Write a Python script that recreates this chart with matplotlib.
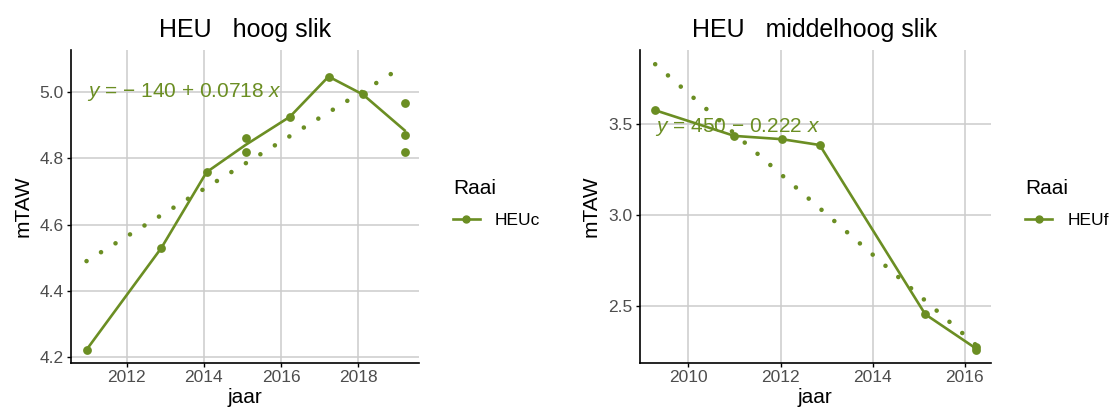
import matplotlib
matplotlib.use('Agg')
import numpy as np
import pandas as pd
import matplotlib.pyplot as plt
from matplotlib.lines import Line2D

# --- data ---
hoog_jaar = [2010.96, 2012.90, 2014.07, 2015.08, 2015.08, 2016.23, 2017.23, 2018.12, 2019.20, 2019.20, 2019.20]
hoog_mtaw = [4.223, 4.530, 4.758, 4.862, 4.818, 4.925, 5.046, 4.992, 4.965, 4.869, 4.818]
hoog_trend_jaar = [2010.96, 2019.20]
hoog_trend_mtaw = [4.490, 5.079]

mid_jaar = [2009.28, 2011.00, 2012.03, 2012.85, 2015.14, 2016.25, 2016.25]
mid_mtaw = [3.577, 3.436, 3.418, 3.386, 2.456, 2.275, 2.258]
mid_trend_jaar = [2009.28, 2016.25]
mid_trend_mtaw = [3.830, 2.285]

hoog_xticks = [2012, 2014, 2016, 2018]
hoog_yticks = [4.2, 4.4, 4.6, 4.8, 5.0]
mid_xticks = [2010, 2012, 2014, 2016]
mid_yticks = [2.5, 3.0, 3.5]

plt.rcParams['font.family'] = ['Liberation Sans', 'DejaVu Sans']
plt.rcParams['mathtext.fontset'] = 'custom'
plt.rcParams['mathtext.rm'] = 'Liberation Sans'
plt.rcParams['mathtext.it'] = 'Liberation Sans:italic'

GREEN = '#6B8E23'
W, H = 1117, 417
fig = plt.figure(figsize=(W / 100, H / 100), dpi=100)


def px_axes(left, right, top, bottom):
    return fig.add_axes([left / W, 1 - bottom / H, (right - left) / W, (bottom - top) / H])


def draw_panel(ax, title, jaar, mtaw, tr_x, tr_y, eq, eq_y, raai, xlim, ylim, xticks, yticks):
    df = pd.DataFrame({'jaar': jaar, 'mtaw': mtaw})
    mean = df.groupby('jaar', as_index=False)['mtaw'].mean()

    ax.grid(True, color='#CCCCCC', lw=1.1)
    ax.set_axisbelow(True)
    # dotted regression line
    ax.plot(tr_x, tr_y, color=GREEN, lw=3.3, ls=(0, (0.01, 3.7)),
            dash_capstyle='round', zorder=2)
    ax.plot(mean['jaar'], mean['mtaw'], color=GREEN, lw=1.9, zorder=3)
    ax.scatter(df['jaar'], df['mtaw'], s=40, color=GREEN, zorder=4, linewidths=0)
    ax.text(jaar[0], eq_y, eq, color=GREEN, fontsize=15, ha='left', va='center', zorder=5)

    ax.set_xlim(*xlim)
    ax.set_ylim(*ylim)
    ax.set_xticks(xticks)
    ax.set_yticks(yticks)
    ax.yaxis.set_major_formatter(matplotlib.ticker.FormatStrFormatter('%.1f'))
    for s in ['top', 'right']:
        ax.spines[s].set_visible(False)
    for s in ['left', 'bottom']:
        ax.spines[s].set_linewidth(1.2)
        ax.spines[s].set_color('black')
    ax.tick_params(length=2.8, width=1.0, color='black', labelcolor='#4D4D4D',
                   labelsize=12.5, pad=2.5)
    ax.set_title(title, fontsize=18, pad=9)
    ax.set_xlabel('jaar', fontsize=15, labelpad=2)
    ax.set_ylabel('mTAW', fontsize=15, labelpad=5)

    handle = Line2D([], [], color=GREEN, lw=1.9, marker='o', ms=5)
    ax.legend([handle], [raai], title='Raai', loc='center left',
              bbox_to_anchor=(1.099, 0.51), frameon=False, fontsize=12.5,
              title_fontsize=15, alignment='left', borderpad=0, borderaxespad=0,
              handlelength=1.55, handletextpad=0.85, labelspacing=0.85)


ax1 = px_axes(70.7, 418.5, 50, 362.7)
draw_panel(ax1, 'HEU   hoog slik', hoog_jaar, hoog_mtaw, hoog_trend_jaar, hoog_trend_mtaw,
           r'$y$ = − 140 + 0.0718 $x$', 5.0, 'HEUc',
           (2010.55, 2019.56), (4.184, 5.126), hoog_xticks, hoog_yticks)

ax2 = px_axes(639.5, 990.7, 50, 362.7)
draw_panel(ax2, 'HEU   middelhoog slik', mid_jaar, mid_mtaw, mid_trend_jaar, mid_trend_mtaw,
           r'$y$ = 450 − 0.222 $x$', 3.487, 'HEUf',
           (2008.94, 2016.56), (2.19, 3.908), mid_xticks, mid_yticks)

fig.savefig('out.png', dpi=100)
